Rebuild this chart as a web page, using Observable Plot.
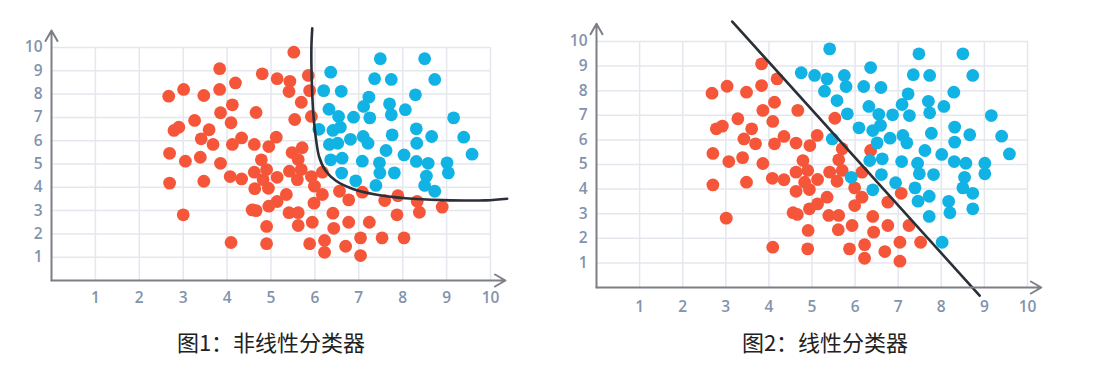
<!DOCTYPE html>
<html><head><meta charset="utf-8">
<script src="https://cdn.jsdelivr.net/npm/d3@7"></script>
<script src="https://cdn.jsdelivr.net/npm/@observablehq/plot@0.6"></script>
<style>
body{margin:0;background:#fff;width:1105px;height:382px;overflow:hidden;position:relative;font-family:"Noto Sans CJK SC",sans-serif}
#p1{position:absolute;left:0;top:0}
#p2{position:absolute;left:545px;top:0}
#p1 svg text,#p2 svg text{font-family:"Open Sans",sans-serif !important;font-size:15.5px !important;font-weight:600}
.cap{position:absolute;font-family:"Noto Sans CJK SC",sans-serif;font-size:22px;line-height:22px;color:#222;text-align:center;white-space:nowrap;width:300px}
</style></head><body>
<div id="p1"></div><div id="p2"></div>
<div class="cap" id="c1" style="left:121px;top:330px"></div>
<div class="cap" id="c2" style="left:675px;top:330px"></div>
<script>
const xTicks = [1,2,3,4,5,6,7,8,9,10];
const yTicks = [1,2,3,4,5,6,7,8,9,10];
const captions = ["图1：非线性分类器", "图2：线性分类器"];

const leftBlue = [[7.49,9.52],[8.50,9.52],[6.36,8.94],[7.36,8.66],[7.74,8.63],[8.73,8.63],[6.20,8.15],[6.60,8.12],[7.23,7.87],[8.29,7.97],[7.70,7.58],[7.11,7.47],[6.32,7.35],[8.06,7.33],[6.54,7.04],[6.88,7.01],[7.25,6.98],[7.74,7.11],[9.16,6.98],[6.09,6.49],[6.41,6.44],[6.58,6.58],[8.31,6.51],[9.39,6.15],[8.66,6.18],[7.76,6.25],[7.10,6.18],[6.81,6.06],[6.52,5.89],[6.33,5.84],[7.21,5.89],[8.32,5.89],[7.62,5.58],[8.03,5.39],[9.58,5.42],[6.36,5.18],[6.62,5.25],[7.08,5.12],[7.47,5.05],[8.31,5.11],[8.58,5.03],[9.01,5.05],[6.61,4.61],[7.48,4.61],[7.81,4.62],[9.04,4.62],[8.54,4.48],[6.93,4.28],[7.39,4.08],[8.50,4.08],[8.73,3.83]];

const leftRed = [[5.52,9.80],[4.80,8.87],[5.14,8.66],[5.43,8.55],[5.85,8.80],[4.19,8.48],[5.41,8.11],[5.88,8.15],[5.69,7.65],[4.12,7.54],[4.66,7.21],[5.54,6.91],[5.92,7.04],[4.09,6.77],[4.33,6.12],[5.12,6.15],[4.12,5.84],[4.62,5.84],[4.95,5.75],[5.71,5.70],[5.48,5.49],[4.78,5.18],[5.62,5.19],[4.62,4.65],[4.90,4.76],[5.42,4.69],[5.69,4.76],[6.17,4.65],[4.07,4.46],[4.33,4.36],[4.82,4.33],[5.14,4.43],[5.60,4.33],[5.92,4.46],[4.63,3.94],[4.94,3.96],[5.99,4.05],[6.56,3.83],[7.08,3.79],[5.35,3.69],[6.17,3.69],[6.77,3.46],[7.59,3.43],[7.89,3.64],[8.33,3.40],[5.14,3.39],[5.98,3.32],[4.57,3.03],[4.66,3.00],[4.95,3.19],[8.90,3.15],[5.41,2.91],[5.62,2.91],[6.41,2.89],[7.87,2.82],[8.38,2.93],[4.90,2.32],[5.62,2.36],[5.94,2.50],[6.43,2.24],[6.77,2.50],[7.24,2.50],[4.09,1.63],[4.90,1.58],[5.88,1.58],[6.22,1.72],[6.70,1.47],[7.04,1.83],[7.53,1.83],[8.03,1.83],[6.22,1.21],[7.04,1.07],[2.67,7.91],[3.01,8.20],[3.47,7.94],[3.83,9.09],[3.83,8.20],[3.85,7.20],[3.26,6.87],[2.79,6.44],[2.90,6.58],[3.59,6.47],[3.41,6.08],[3.68,5.84],[2.69,5.46],[3.05,5.12],[3.39,5.29],[3.85,5.03],[2.69,4.18],[3.47,4.26],[3.00,2.82]];

const leftCurve = [[5.94,10.82],[5.92,10.0],[5.93,8.5],[5.97,7.0],[6.03,6.0],[6.10,5.29],[6.24,4.72],[6.47,4.29],[6.85,3.94],[7.38,3.69],[8.06,3.53],[8.90,3.45],[9.89,3.44],[10.38,3.51]];

const rightBlue = [[5.41,9.70],[7.48,9.50],[8.50,9.50],[6.36,8.94],[4.75,8.73],[5.06,8.62],[5.35,8.48],[5.75,8.62],[5.79,8.17],[5.29,7.98],[6.20,8.17],[6.60,8.13],[7.35,8.65],[7.73,8.62],[8.73,8.62],[5.58,7.60],[7.23,7.87],[8.29,7.94],[6.32,7.36],[7.09,7.44],[7.70,7.57],[8.06,7.36],[5.82,7.06],[6.55,7.04],[6.87,7.02],[7.26,6.99],[7.73,7.10],[9.16,6.99],[6.09,6.49],[6.41,6.38],[6.59,6.59],[8.31,6.52],[9.40,6.15],[8.66,6.21],[7.77,6.27],[7.11,6.18],[6.81,6.07],[6.51,5.88],[5.47,6.04],[7.20,5.88],[8.31,5.91],[7.62,5.57],[8.01,5.41],[9.58,5.43],[6.34,5.16],[6.63,5.23],[7.08,5.12],[7.45,5.05],[8.30,5.12],[8.57,5.05],[9.01,5.05],[5.91,4.48],[6.61,4.59],[7.49,4.62],[7.82,4.59],[9.01,4.62],[8.54,4.48],[6.94,4.26],[7.39,4.05],[8.50,4.05],[6.41,3.97],[8.73,3.83],[7.72,3.71],[7.46,3.51],[8.17,3.50],[8.20,3.04],[8.73,3.20],[7.72,2.89],[8.02,1.84]];

const rightRed = [[4.19,8.48],[4.13,7.53],[4.67,7.20],[4.09,6.75],[5.53,6.88],[4.35,6.14],[5.12,6.18],[4.13,5.84],[4.63,5.87],[4.95,5.77],[5.70,5.64],[6.36,5.57],[4.79,5.16],[5.62,5.19],[4.90,4.76],[4.63,4.69],[5.41,4.69],[5.70,4.76],[6.16,4.69],[4.08,4.44],[4.35,4.38],[4.83,4.28],[5.13,4.39],[5.58,4.32],[4.94,3.98],[4.63,3.91],[5.99,4.05],[5.35,3.67],[6.16,3.67],[7.07,3.83],[5.13,3.40],[5.99,3.33],[6.76,3.47],[4.94,3.20],[4.56,3.04],[4.66,2.97],[5.39,2.93],[5.62,2.93],[6.41,2.89],[4.91,2.32],[5.61,2.35],[5.93,2.52],[6.43,2.25],[6.76,2.52],[7.25,2.52],[4.09,1.64],[4.90,1.57],[5.87,1.57],[6.22,1.74],[6.69,1.46],[7.04,1.84],[7.52,1.84],[6.22,1.19],[7.04,1.07],[2.68,7.90],[3.03,8.18],[3.48,7.94],[3.83,9.09],[3.83,8.21],[3.86,7.20],[3.28,6.86],[2.78,6.45],[2.92,6.56],[3.60,6.45],[3.42,6.04],[3.69,5.84],[2.70,5.45],[3.07,5.12],[3.39,5.28],[3.86,5.04],[2.70,4.17],[3.48,4.28],[3.01,2.82]];

const rightLine = [[3.15,10.81],[8.89,-0.33]];

const RED = "#f5563a", BLUE = "#10b3e3", GRID = "#e4e7ee", AXIS = "#7c7f86", TICK = "#8293ab", CURVE = "#2b2f37";

function panel(red, blue, boundary, curveType, o) {
  return Plot.plot({
    width: o.width, height: o.height,
    marginLeft: 51, marginRight: o.mr, marginTop: o.mt, marginBottom: o.mb,
    style: {fontFamily: "'Open Sans', sans-serif", fontSize: "15.5px", color: TICK, background: "transparent", overflow: "visible"},
    x: {domain: [0, 10]},
    y: {domain: [0, 10]},
    marks: [
      Plot.gridX(xTicks, {y1: 0, y2: 10, stroke: GRID, strokeOpacity: 1, strokeWidth: 1.5}),
      Plot.gridY(yTicks, {x1: 0, x2: 10, stroke: GRID, strokeOpacity: 1, strokeWidth: 1.5}),
      Plot.dot(red, {x: d => d[0], y: d => d[1], r: 6.4, fill: RED}),
      Plot.dot(blue, {x: d => d[0], y: d => d[1], r: 6.4, fill: BLUE}),
      Plot.line(boundary, {x: d => d[0], y: d => d[1], curve: curveType, stroke: CURVE, strokeWidth: 2.6}),
      Plot.arrow([{a: 0, b: 0, c: 0, d: o.yTop}], {x1: "a", y1: "b", x2: "c", y2: "d", stroke: AXIS, strokeWidth: 2, headLength: 9, bend: 0}),
      Plot.arrow([{a: 0, b: 0, c: o.xEnd, d: 0}], {x1: "a", y1: "b", x2: "c", y2: "d", stroke: AXIS, strokeWidth: 2, headLength: 9, bend: 0}),
      Plot.axisX(xTicks, {tickSize: 0, tickPadding: o.xpad, fill: TICK, label: null}),
      Plot.axisY(yTicks, {tickSize: 0, tickPadding: 9, fill: TICK, label: null})
    ]
  });
}

document.getElementById("p1").appendChild(panel(leftRed, leftBlue, leftCurve, "catmull-rom",
  {width: 520, height: 312, mr: 30, mt: 47, mb: 32, xpad: 11, yTop: 10.73, xEnd: 10.34}));
document.getElementById("p2").appendChild(panel(rightRed, rightBlue, rightLine, "linear",
  {width: 522, height: 312, mr: 40, mt: 41, mb: 25, xpad: 13, yTop: 10.72, xEnd: 10.32}));
document.getElementById("c1").textContent = captions[0];
document.getElementById("c2").textContent = captions[1];
</script>
</body></html>
